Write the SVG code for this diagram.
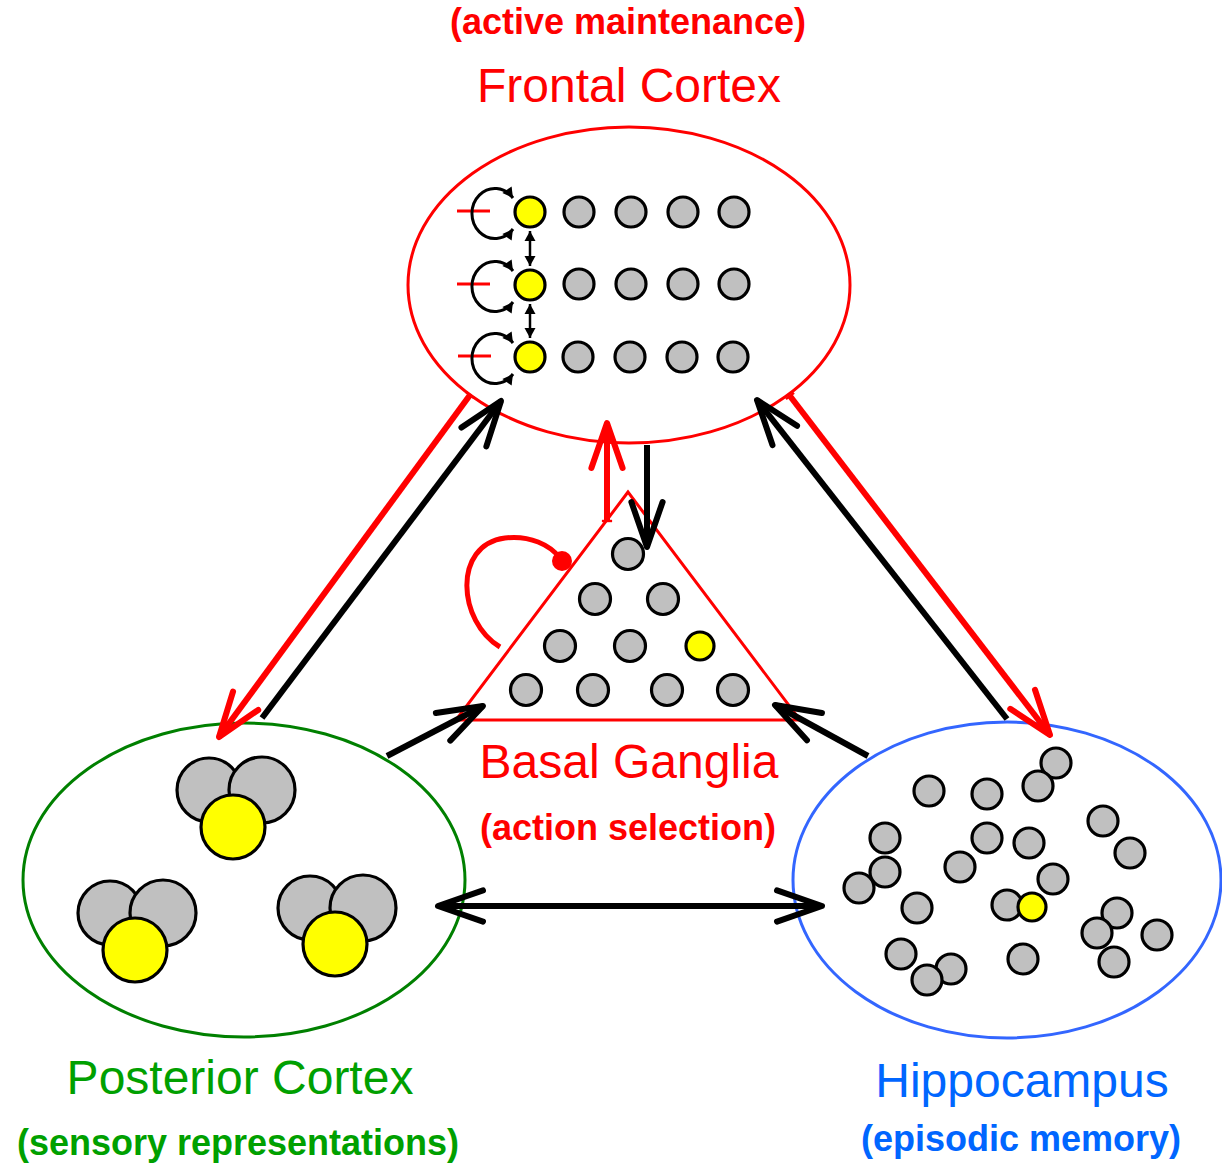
<svg xmlns="http://www.w3.org/2000/svg" width="1222" height="1167" viewBox="0 0 1222 1167">
<style>
.g{fill:#c0c0c0;stroke:#000;stroke-width:3.2}
.y{fill:#ffff00;stroke:#000;stroke-width:3.2}
.lab{font-family:"Liberation Sans",Arial,sans-serif;text-anchor:middle}
.t{font-size:48px}
.b{font-size:36px;font-weight:bold}
.red{fill:#ff0000}
.grn{fill:#00a000}
.blu{fill:#0066ff}
.ln{fill:none;stroke-width:6;stroke-linecap:butt}
.k{stroke:#000}
.r{stroke:#ff0000}
.thin{fill:none;stroke:#000;stroke-width:3}
</style>
<defs>
<marker id="ak" viewBox="-10 -5 11 10" refX="0" refY="0" markerWidth="11" markerHeight="10" orient="auto-start-reverse" markerUnits="strokeWidth">
<path d="M -7.5 -2.6 L 0 0 L -7.5 2.6" fill="none" stroke="#000" stroke-width="1" stroke-linecap="round" stroke-linejoin="round"/>
</marker>
<marker id="ar" viewBox="-10 -5 11 10" refX="0" refY="0" markerWidth="11" markerHeight="10" orient="auto-start-reverse" markerUnits="strokeWidth">
<path d="M -7.5 -2.6 L 0 0 L -7.5 2.6" fill="none" stroke="#ff0000" stroke-width="1" stroke-linecap="round" stroke-linejoin="round"/>
</marker>
<marker id="tb" viewBox="-1 -2 2 4" refX="0" refY="0" markerWidth="2" markerHeight="4" orient="auto" markerUnits="strokeWidth">
<path d="M 0 -0.85 L 0 0.85" fill="none" stroke="#ff0000" stroke-width="0.4"/>
</marker>
<marker id="sm" viewBox="-5 -3 6 6" refX="0" refY="0" markerWidth="6" markerHeight="6" orient="auto-start-reverse" markerUnits="strokeWidth">
<path d="M -3.4 -1.9 L 0 0 L -3.4 1.9 Z" fill="#000"/>
</marker>
<marker id="sm2" viewBox="-5 -3 6 6" refX="0" refY="0" markerWidth="6" markerHeight="6" orient="auto-start-reverse" markerUnits="strokeWidth">
<path d="M -4 -2.2 L 0 0 L -4 2.2 Z" fill="#000"/>
</marker>
</defs>
<rect width="1222" height="1167" fill="#fff"/>

<g id="frontal-cortex">
<ellipse cx="629" cy="285" rx="221" ry="158" fill="none" stroke="#ff0000" stroke-width="3"/>
<g id="fc-row1">
<line x1="457" y1="211" x2="490" y2="211" stroke="#ff0000" stroke-width="3"/>
<path class="thin" d="M 513 198 A 23 25 0 1 0 513 229" marker-start="url(#sm)" marker-end="url(#sm)"/>
<circle class="y" cx="530" cy="212" r="15"/>
<circle class="g" cx="579" cy="212" r="15"/><circle class="g" cx="631" cy="212" r="15"/><circle class="g" cx="683" cy="212" r="15"/><circle class="g" cx="734" cy="212" r="15"/>
</g>
<g id="fc-row2">
<line x1="457" y1="284" x2="490" y2="284" stroke="#ff0000" stroke-width="3"/>
<path class="thin" d="M 513 271 A 23 25 0 1 0 513 302" marker-start="url(#sm)" marker-end="url(#sm)"/>
<circle class="y" cx="530" cy="285" r="15"/>
<circle class="g" cx="579" cy="284" r="15"/><circle class="g" cx="631" cy="284" r="15"/><circle class="g" cx="683" cy="284" r="15"/><circle class="g" cx="734" cy="284" r="15"/>
</g>
<g id="fc-row3">
<line x1="458" y1="356" x2="491" y2="356" stroke="#ff0000" stroke-width="3"/>
<path class="thin" d="M 513 343 A 23 25 0 1 0 513 374" marker-start="url(#sm)" marker-end="url(#sm)"/>
<circle class="y" cx="530" cy="357" r="15"/>
<circle class="g" cx="578" cy="357" r="15"/><circle class="g" cx="630" cy="357" r="15"/><circle class="g" cx="682" cy="357" r="15"/><circle class="g" cx="733" cy="357" r="15"/>
</g>
<line x1="530" y1="231" x2="530" y2="266" stroke="#000" stroke-width="2.5" marker-start="url(#sm2)" marker-end="url(#sm2)"/>
<line x1="530" y1="304" x2="530" y2="338" stroke="#000" stroke-width="2.5" marker-start="url(#sm2)" marker-end="url(#sm2)"/>
<text class="lab b red" x="628" y="34">(active maintenance)</text>
<text class="lab t red" x="629" y="102">Frontal Cortex</text>
</g>

<g id="basal-ganglia">
<polygon points="628,492 456,720 800,720" fill="none" stroke="#ff0000" stroke-width="3"/>
<path d="M 500 647 C 458 622, 452 545, 505 538 C 530 535, 550 545, 560 558" fill="none" stroke="#ff0000" stroke-width="5"/>
<circle cx="562" cy="561" r="10" fill="#ff0000"/>
<circle class="g" cx="628" cy="554" r="15.5"/>
<circle class="g" cx="595" cy="599" r="15.5"/><circle class="g" cx="663" cy="599" r="15.5"/>
<circle class="g" cx="560" cy="646" r="15.5"/><circle class="g" cx="630" cy="646" r="15.5"/><circle class="y" cx="700" cy="646" r="14"/>
<circle class="g" cx="526" cy="690" r="15.5"/><circle class="g" cx="593" cy="690" r="15.5"/><circle class="g" cx="667" cy="690" r="15.5"/><circle class="g" cx="733" cy="690" r="15.5"/>
<text class="lab t red" x="629" y="778">Basal Ganglia</text>
<text class="lab b red" x="628" y="840">(action selection)</text>
</g>

<g id="posterior-cortex">
<ellipse cx="244" cy="880" rx="221" ry="157" fill="none" stroke="#008000" stroke-width="3"/>
<circle class="g" cx="209" cy="790" r="32"/><circle class="g" cx="262" cy="790" r="33"/><circle class="y" cx="233" cy="827" r="32"/>
<circle class="g" cx="110" cy="913" r="32"/><circle class="g" cx="163" cy="913" r="33"/><circle class="y" cx="135" cy="950" r="32"/>
<circle class="g" cx="310" cy="908" r="32"/><circle class="g" cx="363" cy="908" r="33"/><circle class="y" cx="335" cy="944" r="32"/>
<text class="lab t grn" x="240" y="1094">Posterior Cortex</text>
<text class="lab b grn" x="238" y="1155">(sensory representations)</text>
</g>

<g id="hippocampus">
<ellipse cx="1007" cy="880" rx="214" ry="158" fill="none" stroke="#3366ff" stroke-width="3"/>
<circle class="g" cx="929" cy="791" r="15"/>
<circle class="g" cx="987" cy="794" r="15"/>
<circle class="g" cx="1056" cy="763" r="15"/>
<circle class="g" cx="1038" cy="786" r="15"/>
<circle class="g" cx="1103" cy="821" r="15"/>
<circle class="g" cx="1130" cy="853" r="15"/>
<circle class="g" cx="885" cy="838" r="15"/>
<circle class="g" cx="859" cy="888" r="15"/>
<circle class="g" cx="885" cy="872" r="15"/>
<circle class="g" cx="987" cy="838" r="15"/>
<circle class="g" cx="1029" cy="843" r="15"/>
<circle class="g" cx="960" cy="867" r="15"/>
<circle class="g" cx="1053" cy="879" r="15"/>
<circle class="g" cx="917" cy="908" r="15"/>
<circle class="g" cx="1007" cy="905" r="15"/>
<circle class="y" cx="1032" cy="907" r="14"/>
<circle class="g" cx="1117" cy="913" r="15"/>
<circle class="g" cx="1114" cy="962" r="15"/>
<circle class="g" cx="1097" cy="933" r="15"/>
<circle class="g" cx="1157" cy="935" r="15"/>
<circle class="g" cx="901" cy="954" r="15"/>
<circle class="g" cx="951" cy="969" r="15"/>
<circle class="g" cx="927" cy="980" r="15"/>
<circle class="g" cx="1023" cy="959" r="15"/>
<text class="lab t blu" x="1022" y="1097">Hippocampus</text>
<text class="lab b blu" x="1021" y="1151">(episodic memory)</text>
</g>

<g id="connectors">
<line class="ln r" x1="470" y1="395" x2="219" y2="737" marker-start="url(#tb)" marker-end="url(#ar)"/>
<line class="ln k" x1="262" y1="718" x2="501" y2="401" marker-end="url(#ak)"/>
<line class="ln k" x1="1007" y1="719" x2="757" y2="400" marker-end="url(#ak)"/>
<line class="ln r" x1="790" y1="396" x2="1050" y2="735" marker-start="url(#tb)" marker-end="url(#ar)"/>
<line class="ln r" x1="607" y1="521" x2="607" y2="423" marker-start="url(#tb)" marker-end="url(#ar)"/>
<line class="ln k" x1="647" y1="445" x2="647" y2="547" marker-end="url(#ak)"/>
<line class="ln k" x1="387" y1="756" x2="483" y2="706" marker-end="url(#ak)"/>
<line class="ln k" x1="868" y1="756" x2="775" y2="705" marker-end="url(#ak)"/>
<line class="ln k" x1="438" y1="906" x2="822" y2="906" marker-start="url(#ak)" marker-end="url(#ak)"/>
</g>
</svg>
